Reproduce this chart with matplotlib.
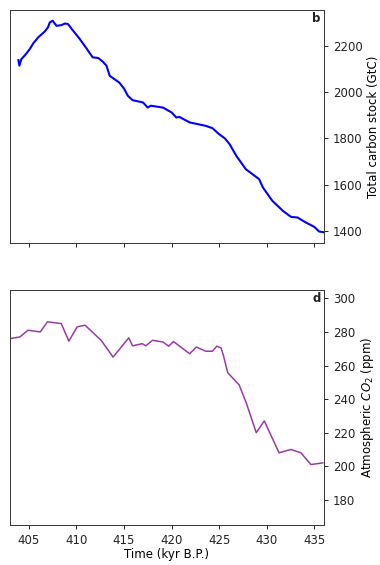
import matplotlib
matplotlib.use("Agg")
import matplotlib.pyplot as plt

# panel b: total carbon stock
t_carbon = [403.9, 404.0, 404.2, 404.6, 405.1, 405.45, 405.97, 406.3, 406.67, 407.0, 407.2,
            407.5, 407.9, 408.4, 408.8, 409.1, 409.65, 410.35, 411.1, 411.7, 412.3, 412.8,
            413.15, 413.5, 414.5, 415.0, 415.4, 415.9, 417.0, 417.5, 417.8, 419.1, 420.0,
            420.5, 420.8, 421.9, 423.6, 424.3, 425.0, 425.6, 426.1, 426.8, 427.8, 429.2,
            429.6, 430.6, 431.7, 432.55, 433.25, 434.1, 435.0, 435.5, 436.05]
carbon = [2138, 2114, 2142, 2160, 2186, 2210, 2236, 2248, 2262, 2279, 2301,
          2308, 2286, 2289, 2296, 2294, 2265, 2229, 2186, 2150, 2147, 2130,
          2114, 2070, 2041, 2015, 1984, 1965, 1955, 1933, 1941, 1933, 1912,
          1890, 1893, 1869, 1854, 1844, 1818, 1800, 1775, 1725, 1667, 1624,
          1588, 1530, 1487, 1461, 1458, 1437, 1418, 1398, 1394]

# panel d: atmospheric CO2
t_co2 = [403.0, 404.05, 404.9, 406.2, 406.95, 408.4, 409.2, 410.07, 410.9, 412.6, 413.85,
         415.5, 415.9, 416.9, 417.3, 418.0, 419.1, 419.7, 420.2, 421.9, 422.6, 423.6,
         424.3, 424.75, 425.2, 425.45, 425.9, 427.1, 427.9, 428.9, 429.75, 431.3, 432.55,
         433.6, 434.65, 435.9]
co2 = [276, 277, 281, 280, 286, 285, 274.5, 283, 284, 275, 265,
       276.5, 271.7, 273, 271.8, 275, 274, 271.5, 274.3, 267, 271, 268.5,
       268.5, 271.5, 270.5, 266, 255.7, 248.5, 237, 220, 227, 208, 210,
       208, 201, 202]

plt.rcParams['font.size'] = 8.5
plt.rcParams['axes.linewidth'] = 0.7
plt.rcParams['axes.edgecolor'] = '#333333'
plt.rcParams['xtick.major.size'] = 3
plt.rcParams['ytick.major.size'] = 3
plt.rcParams['xtick.major.width'] = 0.7
plt.rcParams['ytick.major.width'] = 0.7
plt.rcParams['text.color'] = '#222222'
plt.rcParams['xtick.color'] = '#222222'
plt.rcParams['ytick.color'] = '#222222'

fig = plt.figure(figsize=(3.8, 5.65), dpi=100)
ax1 = fig.add_axes([0.026, 0.570, 0.826, 0.412])
ax2 = fig.add_axes([0.026, 0.0708, 0.826, 0.416])

ax1.plot(t_carbon, carbon, color="blue", lw=1.5)
ax1.set_xlim(403, 436)
ax1.set_xticks([405, 410, 415, 420, 425, 430, 435])
ax1.set_xticklabels([])
ax1.yaxis.tick_right()
ax1.yaxis.set_label_position("right")
ax1.set_yticks([1400, 1600, 1800, 2000, 2200])
ax1.set_ylabel("Total carbon stock (GtC)", labelpad=3)
ax1.text(0.99, 0.99, "b", transform=ax1.transAxes, ha="right", va="top", fontweight="bold")

ax2.plot(t_co2, co2, color="#9a3aa8", lw=1.1)
ax2.set_xlim(403, 436)
ax2.set_ylim(165, 305)
ax2.set_xticks([405, 410, 415, 420, 425, 430, 435])
ax2.yaxis.tick_right()
ax2.yaxis.set_label_position("right")
ax2.set_yticks([180, 200, 220, 240, 260, 280, 300])
ax2.set_ylabel("Atmospheric $CO_2$ (ppm)", labelpad=3)
ax2.set_xlabel("Time (kyr B.P.)", labelpad=1)
ax2.text(0.99, 0.99, "d", transform=ax2.transAxes, ha="right", va="top", fontweight="bold")

fig.savefig("out.png", dpi=100)
